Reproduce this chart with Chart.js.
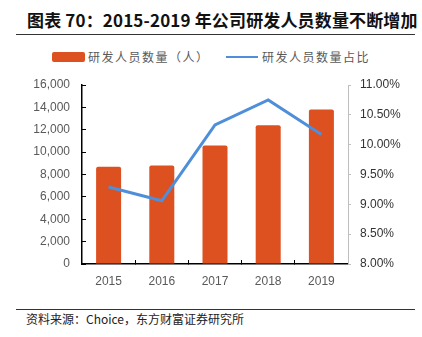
<!DOCTYPE html>
<html>
<head>
<meta charset="utf-8">
<script src="https://cdn.jsdelivr.net/npm/chart.js@4"></script>
<style>
  html, body { margin: 0; padding: 0; background: #fff; }
  body { width: 422px; height: 337px; position: relative; overflow: hidden; font-family: "Noto Sans CJK SC", sans-serif; }
  .title { position: absolute; left: 27px; top: 9px; font-size: 17px; font-weight: bold; color: #111; white-space: nowrap; line-height: 22px; letter-spacing: 0.15px; }
  .rule { position: absolute; left: 16px; width: 399px; height: 1px; background: #333; }
  .legend { position: absolute; top: 48px; left: 0; height: 18px; font-size: 12px; color: #595959; letter-spacing: 1.5px; white-space: nowrap; }
  .legend span { position: absolute; top: 0; line-height: 18px; }
  .swatch-bar { position: absolute; left: 52px; top: 4px; width: 33px; height: 10px; border-radius: 2px; background: #DD5020; }
  .swatch-line { position: absolute; left: 226px; top: 8px; width: 32px; height: 2px; background: #4F8ED9; }
  .source { position: absolute; left: 26px; top: 311px; font-size: 12px; color: #222; white-space: nowrap; line-height: 16px; }
  #wrap { position: absolute; left: 0; top: 70px; width: 422px; height: 224px; }
</style>
</head>
<body>
<div class="title">图表 70：2015-2019 年公司研发人员数量不断增加</div>
<div class="rule" style="top:34px"></div>
<div class="legend">
  <div class="swatch-bar"></div>
  <span style="left:88px">研发人员数量（人）</span>
  <div class="swatch-line"></div>
  <span style="left:262px">研发人员数量占比</span>
</div>
<div id="wrap"><canvas id="chart"></canvas></div>
<div class="rule" style="top:309px"></div>
<div class="source">资料来源：Choice，东方财富证券研究所</div>

<script>
// ── DATA ─────────────────────────────────────────────────────
const years = ['2015', '2016', '2017', '2018', '2019'];
const staffCount = [8700, 8800, 10600, 12400, 13800];
const staffShare = [9.29, 9.06, 10.33, 10.75, 10.17];
const leftTicks = [0, 2000, 4000, 6000, 8000, 10000, 12000, 14000, 16000];
const rightTicks = [8, 8.5, 9, 9.5, 10, 10.5, 11];

const BAR = '#DD5020';
const LINE = '#4F8ED9';
const tickFont = { family: 'Arial, "Liberation Sans"', size: 12 };

// keep the tick padding from pushing the plot area down
const fixVertical = (width) => (s) => {
  s.width = width;
  s.paddingTop = 7;
  s.paddingBottom = 7;
};

new Chart(document.getElementById('chart'), {
  data: {
    labels: years,
    datasets: [
      {
        type: 'line',
        label: '研发人员数量占比',
        data: staffShare,
        yAxisID: 'y1',
        borderColor: LINE,
        borderWidth: 3,
        pointRadius: 0,
        tension: 0,
        order: 0,
      },
      {
        type: 'bar',
        label: '研发人员数量（人）',
        data: staffCount,
        yAxisID: 'y',
        backgroundColor: BAR,
        borderRadius: { topLeft: 2, topRight: 2 },
        borderSkipped: 'bottom',
        barPercentage: 0.47,
        categoryPercentage: 1,
        order: 1,
      },
    ],
  },
  options: {
    responsive: true,
    maintainAspectRatio: false,
    animation: false,
    layout: { padding: { top: 15, left: 0, right: 0, bottom: 0 } },
    plugins: { legend: { display: false }, tooltip: { enabled: false } },
    scales: {
      x: {
        grid: { display: true, drawOnChartArea: false, drawTicks: true, tickLength: -4, color: '#000', offset: true },
        border: { display: true, color: '#000', width: 1.5 },
        ticks: { color: '#595959', font: tickFont, padding: 14 },
        afterFit: (s) => { s.height = 30; },
      },
      y: {
        position: 'left',
        min: 0, max: 16000,
        afterBuildTicks: (s) => { s.ticks = leftTicks.map(v => ({ value: v })); },
        grid: { drawOnChartArea: false, tickLength: -4, color: '#000' },
        border: { display: true, color: '#000', width: 1.5 },
        ticks: { color: '#595959', font: tickFont, padding: 16, callback: (v) => v.toLocaleString('en-US') },
        afterFit: fixVertical(82),
      },
      y1: {
        position: 'right',
        min: 8, max: 11,
        afterBuildTicks: (s) => { s.ticks = rightTicks.map(v => ({ value: v })); },
        grid: { drawOnChartArea: false, tickLength: 3, color: '#bfbfbf' },
        border: { display: true, color: '#bfbfbf', width: 1 },
        ticks: { color: '#333', font: tickFont, padding: 9, callback: (v) => v.toFixed(2) + '%' },
        afterFit: fixVertical(74),
      },
    },
  },
});
</script>
</body>
</html>
